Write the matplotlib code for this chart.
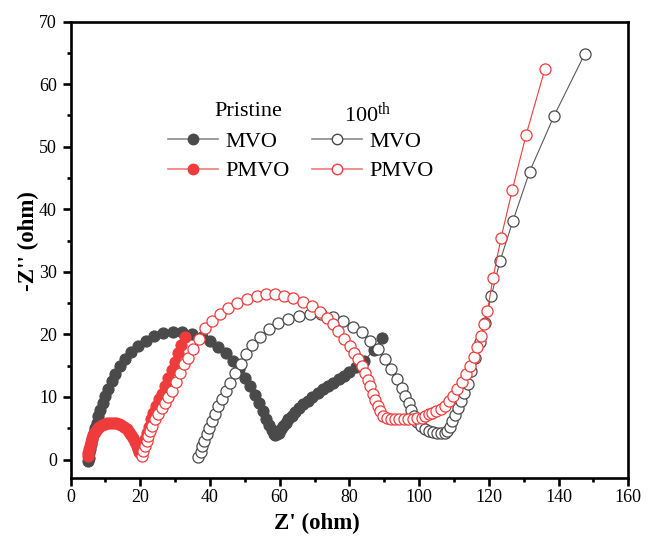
import matplotlib
matplotlib.use("Agg")
import matplotlib.pyplot as plt
from matplotlib.lines import Line2D
from matplotlib.ticker import MultipleLocator

plt.rcParams['font.family'] = ['Liberation Serif', 'DejaVu Serif']
plt.rcParams['mathtext.fontset'] = 'custom'
plt.rcParams['mathtext.rm'] = 'Liberation Serif'
plt.rcParams['mathtext.it'] = 'Liberation Serif:italic'
plt.rcParams['mathtext.bf'] = 'Liberation Serif:bold'

# Nyquist data, Z' (ohm) vs -Z'' (ohm)
pristine_mvo_x = [5.1, 5.2, 5.4, 5.6, 5.9, 6.2, 6.6, 7.0, 7.5, 8.0, 8.5, 9.2, 10.0, 10.8,
                  11.8, 12.9, 14.2, 15.7, 17.4, 19.4, 21.6, 24.0, 26.6, 29.3, 32.0, 34.8,
                  37.6, 40.0, 42.4, 44.6, 46.6, 48.4, 50.0, 51.5, 52.9, 54.1, 55.2, 56.2,
                  57.0, 57.7, 58.3, 58.8, 59.3, 59.8, 60.4, 61.0, 61.7, 62.5, 63.4, 64.4,
                  65.5, 66.7, 68.0, 69.4, 70.9, 72.4, 73.9, 75.4, 76.9, 78.4, 80.0, 82.0,
                  84.3, 87.0, 89.5]
pristine_mvo_y = [-0.3, 0.3, 1.0, 1.7, 2.5, 3.3, 4.2, 5.0, 5.9, 6.9, 7.9, 9.0, 10.1, 11.3,
                  12.5, 13.7, 14.9, 16.1, 17.2, 18.2, 19.0, 19.7, 20.2, 20.4, 20.4, 20.1,
                  19.6, 18.9, 18.0, 17.0, 15.8, 14.5, 13.1, 11.7, 10.3, 9.0, 7.7, 6.5,
                  5.5, 4.7, 4.1, 3.9, 4.0, 4.3, 4.8, 5.3, 5.8, 6.4, 7.0, 7.6,
                  8.2, 8.8, 9.4, 10.0, 10.6, 11.2, 11.7, 12.3, 12.8, 13.4, 14.0, 14.8,
                  15.8, 17.5, 19.4]

pristine_pmvo_x = [5.0, 5.1, 5.3, 5.5, 5.8, 6.1, 6.5, 7.0, 7.6, 8.3, 9.0, 9.8, 10.6, 11.4,
                   12.2, 13.0, 13.8, 14.6, 15.4, 16.1, 16.8, 17.4, 18.0, 18.5, 19.0, 19.4,
                   19.7, 20.0, 20.4, 20.8, 21.3, 21.8, 22.4, 23.1, 23.7, 24.5, 25.3, 26.1,
                   27.1, 28.0, 29.0, 30.0, 30.9, 31.8, 32.8]
pristine_pmvo_y = [0.5, 1.0, 1.6, 2.2, 2.8, 3.4, 3.9, 4.4, 4.8, 5.2, 5.5, 5.7, 5.8, 5.9,
                   5.9, 5.8, 5.7, 5.5, 5.2, 4.8, 4.4, 3.9, 3.4, 2.8, 2.2, 1.7,
                   1.2, 1.0, 1.5, 2.2, 3.2, 4.2, 5.2, 6.4, 7.4, 8.5, 9.6, 10.5,
                   11.8, 13.0, 14.3, 15.6, 17.0, 18.3, 19.6]

cycled_mvo_x = [36.7, 37.3, 37.8, 38.4, 39.1, 39.8, 40.6, 41.5, 42.4, 43.4, 44.5, 45.8,
                47.2, 48.8, 50.4, 52.2, 54.4, 56.9, 59.6, 62.5, 65.6, 68.8, 72.0, 75.2,
                78.2, 81.0, 83.5, 86.0, 88.2, 90.2, 92.0, 93.6, 95.0, 96.1, 97.0, 97.8,
                98.6, 99.5, 100.5, 101.6, 102.7, 103.9, 105.0, 106.2, 107.3, 108.1, 108.8,
                109.5, 110.3, 111.2, 112.0, 112.9, 113.9, 115.0, 116.1, 117.4, 118.8,
                120.7, 123.2, 126.9, 131.7, 138.7, 147.5]
cycled_mvo_y = [0.4, 1.2, 2.1, 3.0, 4.0, 5.0, 6.1, 7.3, 8.5, 9.7, 10.9, 12.3,
                13.8, 15.3, 16.8, 18.3, 19.6, 20.8, 21.8, 22.5, 23.0, 23.2, 23.2, 22.8,
                22.1, 21.2, 20.3, 19.0, 17.6, 16.0, 14.4, 12.9, 11.5, 10.2, 9.0, 7.9,
                6.9, 6.0, 5.4, 4.9, 4.6, 4.4, 4.3, 4.2, 4.2, 4.5, 5.2,
                6.1, 7.1, 8.2, 9.3, 10.6, 12.1, 14.1, 16.3, 18.8, 21.8,
                26.1, 31.7, 38.1, 46.0, 54.9, 64.8]

cycled_pmvo_x = [20.4, 20.9, 21.4, 21.8, 22.3, 22.8, 23.5, 24.2, 25.2, 26.1, 27.1, 28.0,
                 29.0, 30.2, 31.4, 32.6, 33.8, 35.2, 36.8, 38.6, 40.6, 42.9, 45.2, 47.7,
                 50.5, 53.4, 56.0, 58.6, 61.3, 63.9, 66.6, 69.2, 71.5, 73.5, 75.2, 76.8,
                 78.5, 80.1, 81.4, 82.5, 83.5, 84.4, 85.2, 85.9, 86.7, 87.4, 88.1, 88.8,
                 89.7, 90.7, 91.8, 93.0, 94.3, 95.6, 96.9, 98.2, 99.5, 100.7, 101.8,
                 102.8, 103.8, 104.9, 106.2, 107.4, 108.6, 109.8, 111.0, 112.3, 113.5,
                 114.6, 115.7, 116.7, 117.7, 118.7, 119.6, 121.2, 123.5, 126.7, 130.7,
                 136.1]
cycled_pmvo_y = [0.5, 1.3, 2.1, 2.9, 3.7, 4.5, 5.4, 6.4, 7.2, 8.2, 9.1, 10.0,
                 10.9, 12.4, 13.8, 15.2, 16.3, 17.6, 19.2, 21.0, 22.2, 23.2, 24.2, 25.0,
                 25.7, 26.2, 26.5, 26.5, 26.2, 25.8, 25.2, 24.5, 23.6, 22.6, 21.6, 20.5,
                 19.3, 18.1, 17.0, 16.0, 14.9, 13.8, 12.7, 11.7, 10.5, 9.5, 8.5, 7.7,
                 7.0, 6.6, 6.4, 6.4, 6.4, 6.5, 6.5, 6.5, 6.6, 6.7, 6.9,
                 7.2, 7.5, 7.7, 8.1, 8.6, 9.3, 10.2, 11.2, 12.4, 13.7,
                 15.0, 16.4, 18.0, 19.7, 21.6, 23.7, 29.0, 35.4, 43.0, 51.9,
                 62.4]

series_labels = ["MVO", "PMVO"]
group_titles = ["Pristine", "100$^{\\mathrm{th}}$"]

gray = "#4a4a4a"
gray_line = "#5a5a5a"
red = "#ef3b3b"

fig = plt.figure(figsize=(6.47, 5.38), dpi=100)
ax = fig.add_axes([0.109, 0.111, 0.862, 0.849])

ms = 8.0
ax.plot(pristine_mvo_x, pristine_mvo_y, '-o', color=gray_line, lw=0.8,
        ms=ms, mfc=gray, mec=gray, mew=0.8, zorder=2)
ax.plot(pristine_pmvo_x, pristine_pmvo_y, '-o', color=red, lw=0.8,
        ms=ms, mfc=red, mec=red, mew=0.8, zorder=3)
ax.plot(cycled_mvo_x, cycled_mvo_y, '-o', color=gray_line, lw=0.8,
        ms=ms, mfc='white', mec=gray, mew=0.9, zorder=4)
ax.plot(cycled_pmvo_x, cycled_pmvo_y, '-o', color=red, lw=0.8,
        ms=ms, mfc='white', mec=red, mew=0.9, zorder=5)

ax.set_xlim(0, 160)
ax.set_ylim(-3, 70)
ax.xaxis.set_major_locator(MultipleLocator(20))
ax.xaxis.set_minor_locator(MultipleLocator(10))
ax.yaxis.set_major_locator(MultipleLocator(10))
ax.yaxis.set_minor_locator(MultipleLocator(5))

for sp in ax.spines.values():
    sp.set_linewidth(1.9)
ax.tick_params(which='major', direction='out', length=5.8, width=1.9,
               labelsize=13, top=False, right=False)
ax.tick_params(which='minor', direction='out', length=2.8, width=1.9,
               top=False, right=False)
ax.tick_params(axis='x', which='major', pad=2)
ax.tick_params(axis='y', which='major', pad=4)

ax.set_xlabel("Z' (ohm)", fontsize=16.5, fontweight='bold', labelpad=2)
ax.xaxis.set_label_coords(0.441, -0.075)
ax.set_ylabel("-Z'' (ohm)", fontsize=16.5, fontweight='bold')
ax.yaxis.set_label_coords(-0.057, 0.52)

# two-column legend: filled markers for pristine, open markers after cycling
leg_kw = dict(frameon=False, fontsize=16, handlelength=2.25, handletextpad=0.35,
              labelspacing=0.42, borderpad=0, borderaxespad=0, loc='upper left')
h_pristine = [Line2D([], [], color='#8a8a8a', lw=1.2, marker='o', ms=7.5,
                     mfc=gray, mec=gray),
              Line2D([], [], color='#f07a7a', lw=1.2, marker='o', ms=7.5,
                     mfc=red, mec=red)]
h_cycled = [Line2D([], [], color='#8a8a8a', lw=1.2, marker='o', ms=7.5,
                   mfc='white', mec=gray),
            Line2D([], [], color='#f07a7a', lw=1.2, marker='o', ms=7.5,
                   mfc='white', mec=red)]
leg1 = fig.legend(h_pristine, series_labels,
                  bbox_to_anchor=(168 / 647, 1 - 131 / 538), **leg_kw)
leg2 = fig.legend(h_cycled, series_labels,
                  bbox_to_anchor=(312 / 647, 1 - 131 / 538), **leg_kw)

fig.text(248 / 647, 1 - 112 / 538, group_titles[0], fontsize=16,
         ha='center', va='center')
fig.text(368 / 647, 1 - 114 / 538, group_titles[1], fontsize=16,
         ha='center', va='center')

fig.savefig("out.png", dpi=100)
